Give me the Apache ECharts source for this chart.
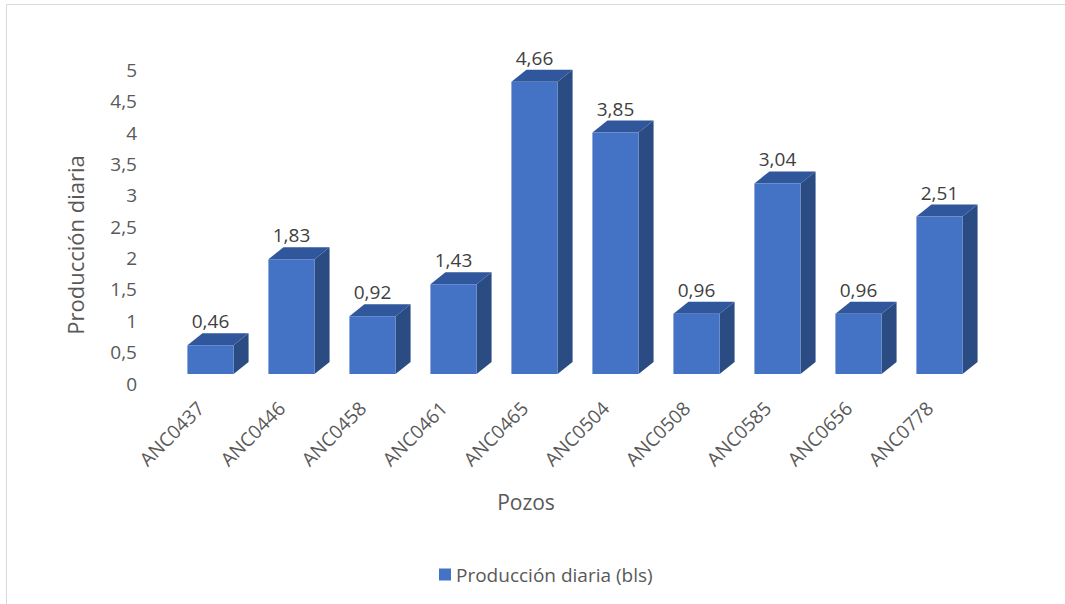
<!DOCTYPE html>
<html>
<head>
<meta charset="utf-8">
<script src="https://cdn.jsdelivr.net/npm/echarts@6/dist/echarts.min.js"></script>
<style>
  html, body { margin: 0; padding: 0; background: #fff; }
  #main { width: 1065px; height: 604px; }
</style>
</head>
<body>
<div id="main"></div>
<script>
// datos
const pozos = ['ANC0437', 'ANC0446', 'ANC0458', 'ANC0461', 'ANC0465', 'ANC0504', 'ANC0508', 'ANC0585', 'ANC0656', 'ANC0778']
const produccion = [0.46, 1.83, 0.92, 1.43, 4.66, 3.85, 0.96, 3.04, 0.96, 2.51]
const serieNombre = 'Producción diaria (bls)'

const FONT = '"Open Sans", "DejaVu Sans", sans-serif'
const TXT = '#595959'

const myChart = echarts.init(document.getElementById('main'), null, { renderer: 'svg' })

// barra "3D": cara frontal, lateral y superior
function renderBar (params, api) {
  const idx = api.value(0)
  const val = api.value(1)
  const top = api.coord([idx, val])
  const base = api.coord([idx, 0])
  const w = api.size([1, 0])[0] * 0.57
  const dx = 15
  const dy = -12
  const x0 = top[0] - w / 2
  const x1 = top[0] + w / 2
  const yt = top[1]
  const yb = base[1]
  return {
    type: 'group',
    children: [
      {
        type: 'polygon',
        shape: { points: [[x1, yt], [x1 + dx, yt + dy], [x1 + dx, yb + dy], [x1, yb]] },
        style: { fill: '#2b4b83' }
      },
      {
        type: 'polygon',
        shape: { points: [[x0, yt], [x0 + dx, yt + dy], [x1 + dx, yt + dy], [x1, yt]] },
        style: { fill: '#30569c' }
      },
      {
        type: 'rect',
        shape: { x: x0, y: yt, width: w, height: yb - yt },
        style: { fill: '#4472c4' }
      },
      {
        type: 'text',
        style: {
          text: val.toFixed(2).replace('.', ','),
          x: top[0],
          y: yt - 24,
          align: 'center',
          verticalAlign: 'middle',
          fill: '#404040',
          fontSize: 19,
          fontFamily: FONT
        }
      }
    ]
  }
}

const option = {
  animation: false,
  backgroundColor: '#fff',
  textStyle: { fontFamily: FONT },
  grid: {
    left: 170,
    right: 85,
    top: 60.5,
    bottom: 230
  },
  legend: {
    data: [serieNombre],
    left: 434,
    top: 560,
    icon: 'rect',
    itemWidth: 12,
    itemHeight: 12,
    textStyle: { color: TXT, fontSize: 19, fontFamily: FONT }
  },
  xAxis: {
    type: 'category',
    data: pozos,
    axisLine: { show: false },
    axisTick: { show: false },
    axisLabel: {
      rotate: 45,
      margin: 21,
      interval: 0,
      color: TXT,
      fontSize: 19,
      fontFamily: FONT,
      // espacio al final para bajar la etiqueta a lo largo de su diagonal
      formatter: v => '{t|' + v + '}{s|}',
      rich: {
        t: { color: TXT, fontSize: 19, fontFamily: FONT },
        s: { width: 14 }
      }
    }
  },
  yAxis: {
    type: 'value',
    min: 0,
    max: 5,
    interval: 0.5,
    axisLine: { show: false },
    axisTick: { show: false },
    splitLine: { show: false },
    axisLabel: {
      margin: 33,
      verticalAlign: 'top',
      lineHeight: 19,
      color: TXT,
      fontSize: 19,
      fontFamily: FONT,
      formatter: v => String(v).replace('.', ',')
    }
  },
  graphic: [
    {
      type: 'rect',
      silent: true,
      shape: { x: 6.5, y: 4.5, width: 1100, height: 700 },
      style: { fill: 'none', stroke: '#d9d9d9', lineWidth: 1 }
    },
    {
      type: 'text',
      x: 75,
      y: 245,
      rotation: Math.PI / 2,
      style: {
        text: 'Producción diaria',
        align: 'center',
        verticalAlign: 'middle',
        fill: TXT,
        fontSize: 22,
        fontFamily: FONT
      }
    },
    {
      type: 'text',
      x: 526,
      y: 502,
      style: {
        text: 'Pozos',
        align: 'center',
        verticalAlign: 'middle',
        fill: TXT,
        fontSize: 21,
        fontFamily: FONT
      }
    }
  ],
  series: [
    {
      name: serieNombre,
      type: 'custom',
      renderItem: renderBar,
      itemStyle: { color: '#4472c4' },
      encode: { x: 0, y: 1 },
      data: produccion.map((v, i) => [i, v])
    }
  ]
}

myChart.setOption(option)
</script>
</body>
</html>
